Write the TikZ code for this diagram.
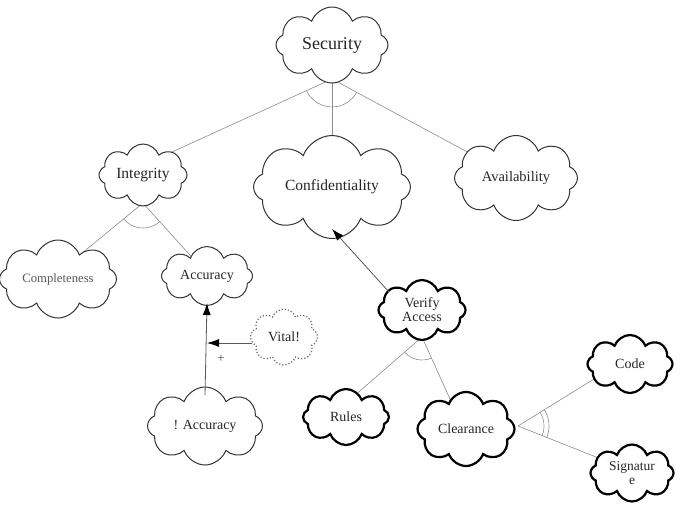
\documentclass[tikz,border=0pt]{standalone}
\usepackage{fontspec}
\setmainfont{Liberation Serif}
\usetikzlibrary{shapes.symbols,arrows.meta,angles,backgrounds,calc}
\newcommand{\fsz}[1]{\fontsize{#1}{#1}\selectfont}
\tikzset{
  cl/.style={cloud, cloud puffs=8, cloud puff arc=140, cloud ignores aspect,
    shape border rotate=22.5,
    draw=black!80, line width=1pt, fill=white, inner sep=0pt, align=center,
    text=black!85},
  clthick/.style={cl, draw=black, line width=2.2pt},
  cldot/.style={cl, draw=black!60, line width=1.2pt, dotted},
  conn/.style={draw=black!45, line width=0.6pt},
  arcline/.style={draw=black!45, line width=0.6pt},
  arr/.style={draw=black!65, line width=0.8pt, -{Latex[length=12pt,width=8pt,color=black]}},
}
\begin{document}
\begin{tikzpicture}[x=1pt,y=-1pt]
\useasboundingbox (0,0) rectangle (688,504);
% clouds
\node[cl, minimum width=112pt, minimum height=76pt, font=\fsz{18}] (sec) at (332,45) {Security};
\node[cl, minimum width=88pt, minimum height=62pt, font=\fsz{15.5}] (integ) at (143,175) {Integrity};
\node[cl, minimum width=157pt, minimum height=103pt, font=\fsz{15.5}] (conf) at (332,187) {Confidentiality};
\node[cl, minimum width=123pt, minimum height=85pt, font=\fsz{14.5}] (avail) at (516,178) {Availability};
\node[cl, minimum width=117pt, minimum height=78pt, font=\fsz{12.7}, text=black!65] (comp) at (58,279) {Completeness};
\node[cl, minimum width=91pt, minimum height=59pt, font=\fsz{14}] (acc) at (207,276) {Accuracy};
\node[cl, minimum width=115pt, minimum height=78pt, font=\fsz{14}] (nacc) at (205,426) {! Accuracy};
\node[cldot, minimum width=67pt, minimum height=56pt, font=\fsz{14}] (vital) at (284,337) {Vital!};
\node[clthick, minimum width=87pt, minimum height=60pt, font=\fsz{14}] (ver) at (422,310) {Verify\\Access};
\node[clthick, minimum width=86pt, minimum height=56pt, font=\fsz{14}] (rules) at (346,417) {Rules};
\node[clthick, minimum width=97pt, minimum height=74pt, font=\fsz{14}] (clear) at (466,429) {Clearance};
\node[clthick, minimum width=85pt, minimum height=58pt, font=\fsz{14}] (code) at (630,364) {Code};
\node[clthick, minimum width=83pt, minimum height=57pt, font=\fsz{13.5}] (sig) at (632,473) {Signatur\\e};
% connector coordinates (junction points at the parents' edges)
\coordinate (S0) at ($(sec.center)+(0,34)$);
\coordinate (I0) at ($(integ.center)+(0,28)$);
\coordinate (V0) at ($(ver.center)+(0,27)$);
\coordinate (C0) at ($(clear.center)+(52,-3)$);
% aim points inside the children
\coordinate (Si) at ($(integ.center)!0.7!(integ.50)$);
\coordinate (Sc) at ($(conf.center)+(0,-30)$);
\coordinate (Sa) at ($(avail.center)!0.7!(avail.152)$);
\coordinate (Ic) at ($(comp.center)!0.7!(comp.51)$);
\coordinate (Ia) at ($(acc.center)!0.7!(acc.128)$);
\coordinate (Vr) at ($(rules.center)!0.7!(rules.73)$);
\coordinate (Vc) at ($(clear.center)!0.7!(clear.120)$);
\coordinate (Cc) at ($(code.center)!0.7!(code.199)$);
\coordinate (Cs) at ($(sig.center)!0.7!(sig.155)$);
\begin{scope}[on background layer]
\draw[conn] (S0) -- (Si);
\draw[conn] (S0) -- (Sc);
\draw[conn] (S0) -- (Sa);
\draw[conn] (I0) -- (Ic);
\draw[conn] (I0) -- (Ia);
\draw[conn] (V0) -- (Vr);
\draw[conn] (V0) -- (Vc);
\draw[conn] (C0) -- (Cc);
\draw[conn] (C0) -- (Cs);
% AND / OR arcs
\pic[arcline, angle radius=28pt] {angle = Si--S0--Sa};
\pic[arcline, angle radius=25pt] {angle = Ic--I0--Ia};
\pic[arcline, angle radius=23pt] {angle = Vr--V0--Vc};
\pic[arcline, angle radius=26pt] {angle = Cs--C0--Cc};
\pic[arcline, angle radius=31pt] {angle = Cs--C0--Cc};
\end{scope}
% contribution arrows
\coordinate (naccT) at ($(nacc.center)+(0,-31)$);
\coordinate (accB) at ($(acc.center)+(0,27)$);
\draw[arr] (naccT) -- (accB);
\coordinate (vitL) at ($(vital.center)+(-32,6)$);
\coordinate (J) at (accB |- vitL);
\draw[arr] (vitL) -- (J);
\node[font=\fsz{13}, text=black!70] (plus) at (221,359) {+};
\coordinate (verTL) at ($(ver.center)+(-33,-18)$);
\coordinate (confB) at ($(conf.center)+(0,42)$);
\draw[arr] (verTL) -- (confB);
\end{tikzpicture}
\end{document}
